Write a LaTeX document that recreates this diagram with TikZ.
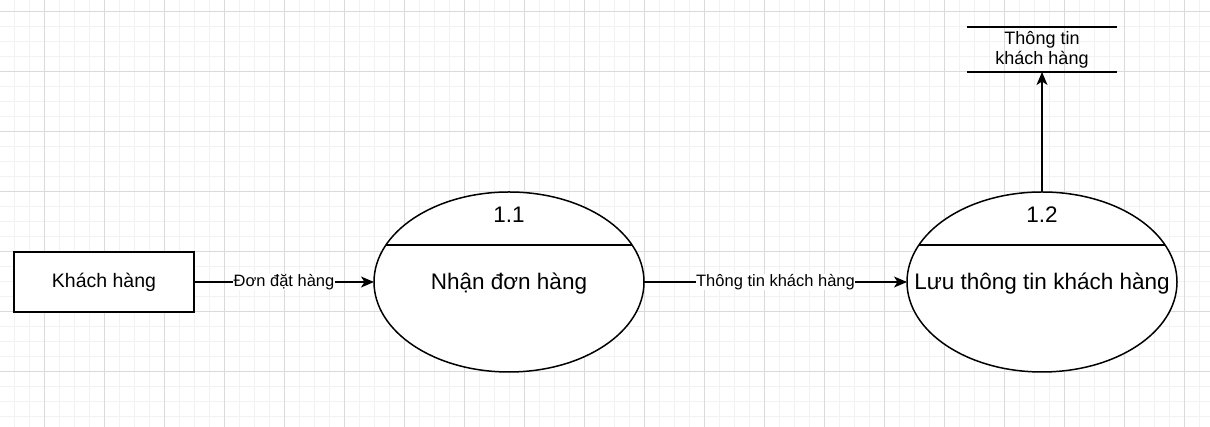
\documentclass[tikz,border=0pt]{standalone}
\usepackage{fontspec}
\setmainfont{Liberation Sans}
\usetikzlibrary{arrows.meta,positioning,shapes.geometric,calc}
\definecolor{GridMajor}{HTML}{DADADA}
\definecolor{GridMinor}{HTML}{F2F2F2}
\tikzset{
  gridmajor/.style={draw=GridMajor,line width=1pt},
  gridminor/.style={draw=GridMinor,line width=1pt},
  extbox/.style={draw=black,line width=1.5pt,fill=white,minimum width=180pt,minimum height=60pt,inner sep=0pt,outer sep=0pt,font=\fontsize{19.5pt}{23pt}\selectfont},
  procell/.style={ellipse,draw=black,line width=1.5pt,fill=white,minimum width=270pt,minimum height=180pt,inner sep=0pt,outer sep=0pt},
  proctext/.style={inner sep=0pt,anchor=base,font=\fontsize{22.5pt}{27pt}\selectfont},
  storebox/.style={minimum width=150pt,minimum height=45pt,inner sep=0pt,outer sep=0pt,align=center,font=\fontsize{18pt}{20pt}\selectfont},
  storeline/.style={line width=1.5pt,draw=black},
  divline/.style={line width=1.5pt,draw=black},
  flowarrow/.style={-{Stealth[length=13pt,width=11pt,inset=3.5pt]},line width=1.5pt,draw=black},
  flowlabel/.style={fill=white,inner sep=0.5pt,font=\fontsize{16.5pt}{19pt}\selectfont}
}
\begin{document}
\begin{tikzpicture}[x=1pt,y=1pt]
\useasboundingbox (0,0) rectangle (1210,427);
\fill[white] (0,0) rectangle (1210,427);
\foreach \gx in {14,29,...,1199} \draw[gridminor] (\gx,0) -- (\gx,427);
\foreach \gy in {10,25,...,425} \draw[gridminor] (0,\gy) -- (1210,\gy);
\foreach \gx in {44,104,...,1184} \draw[gridmajor] (\gx,0) -- (\gx,427);
\foreach \gy in {55,115,...,415} \draw[gridmajor] (0,\gy) -- (1210,\gy);

\node[extbox] (kh) at (104,145) {Khách hàng};
\node[procell,right=180pt of kh] (p1) {};
\node[procell,right=263pt of p1] (p2) {};
\node[storebox,above=120pt of p2] (kho) {Thông tin\\khách hàng};

\draw[divline] ($(p1.center)+(-123,37)$) -- ($(p1.center)+(123,37)$);
\draw[divline] ($(p2.center)+(-123,37)$) -- ($(p2.center)+(123,37)$);
\node[proctext] (p1id) at ($(p1.center)+(0,59)$) {1.1};
\node[proctext] (p1name) at ($(p1.center)+(0,-8)$) {Nhận đơn hàng};
\node[proctext] (p2id) at ($(p2.center)+(0,59)$) {1.2};
\node[proctext] (p2name) at ($(p2.center)+(0,-8)$) {Lưu thông tin khách hàng};

\draw[storeline] (kho.north west) -- (kho.north east);
\draw[storeline] (kho.south west) -- (kho.south east);

\draw[flowarrow] (kh.east) -- node[flowlabel] (lb1) {Đơn đặt hàng} (p1.west);
\draw[flowarrow] (p1.east) -- node[flowlabel] (lb2) {Thông tin khách hàng} (p2.west);
\draw[flowarrow] (p2.north) -- (kho.south);
\end{tikzpicture}
\end{document}
